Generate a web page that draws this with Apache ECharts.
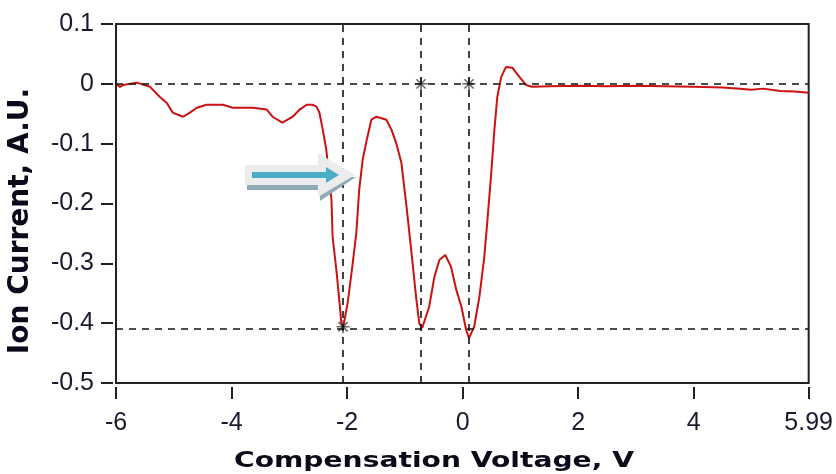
<!DOCTYPE html>
<html>
<head>
<meta charset="utf-8">
<script src="https://cdn.jsdelivr.net/npm/echarts@6/dist/echarts.min.js"></script>
<style>
  html, body { margin: 0; padding: 0; background: #fff; }
  #main { width: 836px; height: 474px; }
</style>
</head>
<body>
<div id="main"></div>
<script>
// ion current vs compensation voltage

var cv = [-6.00, -5.93, -5.88, -5.64, -5.41, -5.24, -5.12, -5.02, -4.84, -4.72, -4.60, -4.43, -4.15, -3.98, -3.63, -3.39, -3.29, -3.12, -2.94, -2.82, -2.70, -2.60, -2.53, -2.48, -2.42, -2.36, -2.27, -2.25, -2.18, -2.13, -2.10, -2.07, -1.99, -1.91, -1.84, -1.79, -1.73, -1.66, -1.58, -1.49, -1.32, -1.23, -1.15, -1.06, -0.97, -0.89, -0.80, -0.75, -0.70, -0.58, -0.49, -0.40, -0.30, -0.20, -0.11, -0.02, 0.06, 0.11, 0.20, 0.29, 0.37, 0.42, 0.49, 0.55, 0.60, 0.67, 0.75, 0.86, 0.98, 1.10, 1.20, 1.5, 2.0, 2.5, 3.0, 3.5, 4.0, 4.5, 4.75, 5.0, 5.2, 5.5, 5.75, 5.99]
var ionCurrent = [0, -0.005, -0.002, 0.002, -0.005, -0.022, -0.032, -0.048, -0.055, -0.048, -0.040, -0.035, -0.035, -0.040, -0.040, -0.043, -0.055, -0.065, -0.055, -0.043, -0.035, -0.035, -0.038, -0.048, -0.077, -0.110, -0.194, -0.256, -0.316, -0.366, -0.400, -0.408, -0.366, -0.306, -0.249, -0.177, -0.127, -0.094, -0.060, -0.055, -0.060, -0.077, -0.099, -0.132, -0.206, -0.278, -0.361, -0.400, -0.408, -0.373, -0.323, -0.294, -0.286, -0.306, -0.344, -0.373, -0.411, -0.425, -0.406, -0.356, -0.294, -0.239, -0.156, -0.077, -0.022, 0.012, 0.028, 0.027, 0.012, -0.002, -0.005, -0.004, -0.003, -0.004, -0.003, -0.004, -0.005, -0.006, -0.008, -0.010, -0.008, -0.012, -0.013, -0.015]

var xTicks = [-6, -4, -2, 0, 2, 4, 5.99]
var yTicks = [0.1, 0, -0.1, -0.2, -0.3, -0.4, -0.5]

// cursor lines
var cursorX = [-2.07, -0.72, 0.11]
var cursorY = [0, -0.406]
var crossX = [-2.07, -0.72, 0.11]
var crossY = [-0.406, 0, 0]

var xTitle = 'Compensation Voltage, V'
var yTitle = 'Ion Current, A.U.'

function pairs(xs, ys) {
  var out = []
  for (var i = 0; i < xs.length; i++) out.push([xs[i], ys[i]])
  return out
}

var marks = []
cursorX.forEach(function (v) { marks.push({ xAxis: v }) })
cursorY.forEach(function (v) { marks.push({ yAxis: v }) })

var labelFont = { fontFamily: 'Liberation Sans', fontSize: 25, color: '#1a1a2e' }
var tickStyle = { color: '#222', width: 2 }
var plusPath = 'path://M0,4.4L10,4.4L10,5.6L0,5.6Z M4.4,0L5.6,0L5.6,10L4.4,10Z'

var chart = echarts.init(document.getElementById('main'))

var option = {
  animation: false,
  grid: {
    left: 116, right: 26, top: 24, bottom: 91,
    show: true, borderColor: '#222', borderWidth: 2
  },
  xAxis: {
    type: 'value', min: -6, max: 5.99, offset: 4,
    axisLine: { show: false, onZero: false },
    axisTick: { customValues: xTicks, length: 12, lineStyle: tickStyle },
    axisLabel: Object.assign({ customValues: xTicks, margin: 24, formatter: function (v) { return String(v) } }, labelFont),
    splitLine: { show: false }
  },
  yAxis: {
    type: 'value', min: -0.5, max: 0.1, interval: 0.1, offset: 3,
    axisLine: { show: false, onZero: false },
    axisTick: { customValues: yTicks, length: 12, lineStyle: tickStyle },
    axisLabel: Object.assign({ customValues: yTicks, margin: 19, formatter: function (v) { return String(Math.round(v * 10) / 10) } }, labelFont),
    splitLine: { show: false }
  },
  graphic: [
    // axis titles
    { type: 'text', x: 434, y: 461, scaleX: 1.28, style: { text: xTitle, fontFamily: 'DejaVu Sans', fontWeight: 'bold', fontSize: 22, fill: '#0a0a1a', textAlign: 'center', textVerticalAlign: 'middle' } },
    { type: 'text', x: 21, y: 221, rotation: Math.PI / 2, style: { text: yTitle, fontFamily: 'DejaVu Sans', fontWeight: 'bold', fontSize: 28, fill: '#0a0a1a', textAlign: 'center', textVerticalAlign: 'middle' } },
    // annotation arrow: shadow, light block, teal arrow
    { type: 'polygon', z: 100, shape: { points: [[247, 185], [320, 185], [320, 190], [247, 190]] }, style: { fill: '#8fa9b5' } },
    { type: 'polygon', z: 100, shape: { points: [[320, 201], [356, 177], [350, 177], [320, 193]] }, style: { fill: '#8fa9b5' } },
    { type: 'polygon', z: 101, shape: { points: [[245, 165], [318, 165], [318, 153], [355, 175], [318, 197], [318, 185], [245, 185]] }, style: { fill: '#ececec' } },
    { type: 'rect', z: 102, shape: { x: 252, y: 172, width: 76, height: 6 }, style: { fill: '#4aaec8' } },
    { type: 'polygon', z: 102, shape: { points: [[326, 167], [339, 175], [326, 183]] }, style: { fill: '#4aaec8' } }
  ],
  series: [
    {
      name: 'Ion Current',
      type: 'line',
      data: pairs(cv, ionCurrent),
      symbol: 'none',
      lineStyle: { color: '#cc1111', width: 2 },
      z: 3,
      markLine: {
        silent: true,
        symbol: 'none',
        label: { show: false },
        lineStyle: { color: '#111', type: [7, 6], width: 1.6 },
        data: marks
      }
    },
    {
      type: 'scatter',
      data: pairs(crossX, crossY),
      symbol: plusPath, symbolSize: 13,
      itemStyle: { color: '#444' }, z: 4
    },
    {
      type: 'scatter',
      data: pairs(crossX, crossY),
      symbol: plusPath, symbolSize: 13, symbolRotate: 45,
      itemStyle: { color: '#444' }, z: 4
    }
  ]
}

chart.setOption(option)
</script>
</body>
</html>
